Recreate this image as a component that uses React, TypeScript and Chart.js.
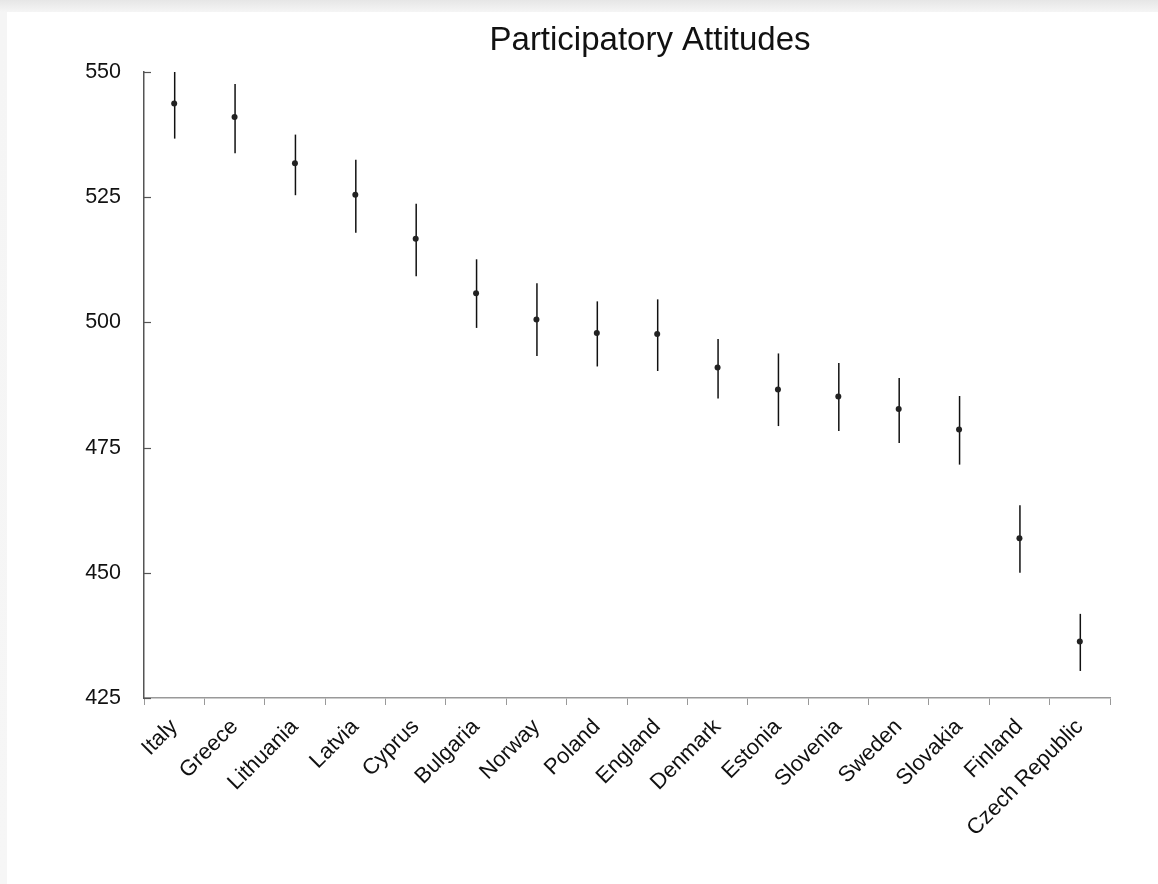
import React, { useEffect, useRef } from "react";
import { Chart, registerables } from "chart.js";

Chart.register(...registerables);

const TITLE = "Participatory Attitudes";

const categories = [
  "Italy",
  "Greece",
  "Lithuania",
  "Latvia",
  "Cyprus",
  "Bulgaria",
  "Norway",
  "Poland",
  "England",
  "Denmark",
  "Estonia",
  "Slovenia",
  "Sweden",
  "Slovakia",
  "Finland",
  "Czech Republic",
];

const means = [543.7, 541.0, 531.8, 525.5, 516.7, 505.8, 500.6, 497.9, 497.7, 491.0, 486.6, 485.2, 482.7, 478.6, 456.9, 436.3];
const upper = [550.7, 547.6, 537.5, 532.5, 523.7, 512.6, 507.8, 504.2, 504.6, 496.7, 493.8, 491.9, 488.9, 485.3, 463.5, 441.8];
const lower = [536.7, 533.8, 525.4, 517.9, 509.2, 498.9, 493.3, 491.2, 490.3, 484.8, 479.3, 478.3, 475.9, 471.6, 450.0, 430.4];

const yMin = 425;
const yMax = 550;
const yStep = 25;

const FONT = "'Liberation Sans', Arial, sans-serif";

const errorBarPlugin = {
  id: "errorBars",
  beforeDatasetsDraw(chart: any) {
    const { ctx, chartArea, scales } = chart;
    const xs = scales.x;
    const ys = scales.y;
    ctx.save();
    ctx.beginPath();
    ctx.rect(chartArea.left, chartArea.top, chartArea.right - chartArea.left, chartArea.bottom - chartArea.top);
    ctx.clip();
    ctx.strokeStyle = "#111";
    ctx.lineWidth = 1.5;
    for (let i = 0; i < categories.length; i++) {
      const x = xs.getPixelForValue(i) + 0.5;
      ctx.beginPath();
      ctx.moveTo(x, ys.getPixelForValue(upper[i]));
      ctx.lineTo(x, ys.getPixelForValue(lower[i]));
      ctx.stroke();
    }
    ctx.restore();
  },
};

// inward tick marks on the value axis
const yTickPlugin = {
  id: "yInwardTicks",
  afterDraw(chart: any) {
    const { ctx, chartArea, scales } = chart;
    const ys = scales.y;
    ctx.save();
    ctx.strokeStyle = "#555";
    ctx.lineWidth = 1.2;
    ys.ticks.forEach((t: any) => {
      const y = Math.round(ys.getPixelForValue(t.value)) + 0.5;
      ctx.beginPath();
      ctx.moveTo(chartArea.left, y);
      ctx.lineTo(chartArea.left + 7, y);
      ctx.stroke();
    });
    ctx.restore();
  },
};

const titlePlugin = {
  id: "customTitle",
  afterDraw(chart: any) {
    const { ctx } = chart;
    ctx.save();
    ctx.font = `33px ${FONT}`;
    ctx.fillStyle = "#111";
    ctx.textAlign = "center";
    ctx.textBaseline = "alphabetic";
    ctx.fillText(TITLE, 650, 50);
    ctx.restore();
  },
};

export default function App() {
  const canvasRef = useRef<HTMLCanvasElement | null>(null);

  useEffect(() => {
    if (!canvasRef.current) return;
    const chart = new Chart(canvasRef.current, {
      type: "line",
      data: {
        labels: categories,
        datasets: [
          {
            data: means,
            showLine: false,
            pointRadius: 3,
            pointHoverRadius: 3,
            pointBackgroundColor: "#222",
            pointBorderColor: "#222",
            pointBorderWidth: 0,
            borderColor: "#222",
          },
        ],
      },
      options: {
        responsive: false,
        animation: false,
        devicePixelRatio: 1,
        layout: { padding: { left: 8, top: 72, right: 48, bottom: 36 } },
        plugins: {
          legend: { display: false },
          title: { display: false },
          tooltip: { enabled: false },
        },
        scales: {
          x: {
            type: "category",
            offset: true,
            grid: {
              offset: true,
              drawOnChartArea: false,
              drawTicks: true,
              tickLength: 7,
              color: "#999",
            },
            border: { display: true, color: "#999", width: 1.5 },
            ticks: {
              autoSkip: false,
              minRotation: 45,
              maxRotation: 45,
              padding: 9,
              color: "#111",
              font: { family: FONT, size: 22 },
            },
            afterFit: (s: any) => {
              s.height = 150;
              s.paddingLeft = 0;
              s.paddingRight = 0;
            },
          },
          y: {
            min: yMin,
            max: yMax,
            grid: {
              drawOnChartArea: false,
              drawTicks: false,
            },
            border: { display: true, color: "#555", width: 1.5 },
            ticks: {
              stepSize: yStep,
              padding: 23,
              color: "#111",
              font: { family: FONT, size: 21.5 },
            },
            afterFit: (s: any) => {
              s.width = 136;
              s.paddingTop = 0;
              s.paddingBottom = 0;
            },
          },
        },
      },
      plugins: [errorBarPlugin, yTickPlugin, titlePlugin],
    });
    return () => chart.destroy();
  }, []);

  return (
    <div
      style={{
        position: "fixed",
        left: 0,
        top: 0,
        width: 1158,
        height: 884,
        background: "linear-gradient(to bottom, #e6e6e6 0px, #f5f5f5 12px, #f6f6f6 100%)",
        overflow: "hidden",
      }}
    >
      <div
        style={{
          position: "absolute",
          left: 7,
          top: 12,
          right: 0,
          bottom: 0,
          background: "#fff",
        }}
      />
      <canvas
        ref={canvasRef}
        width={1158}
        height={884}
        style={{ position: "absolute", left: 0, top: 0, width: 1158, height: 884 }}
      />
    </div>
  );
}
